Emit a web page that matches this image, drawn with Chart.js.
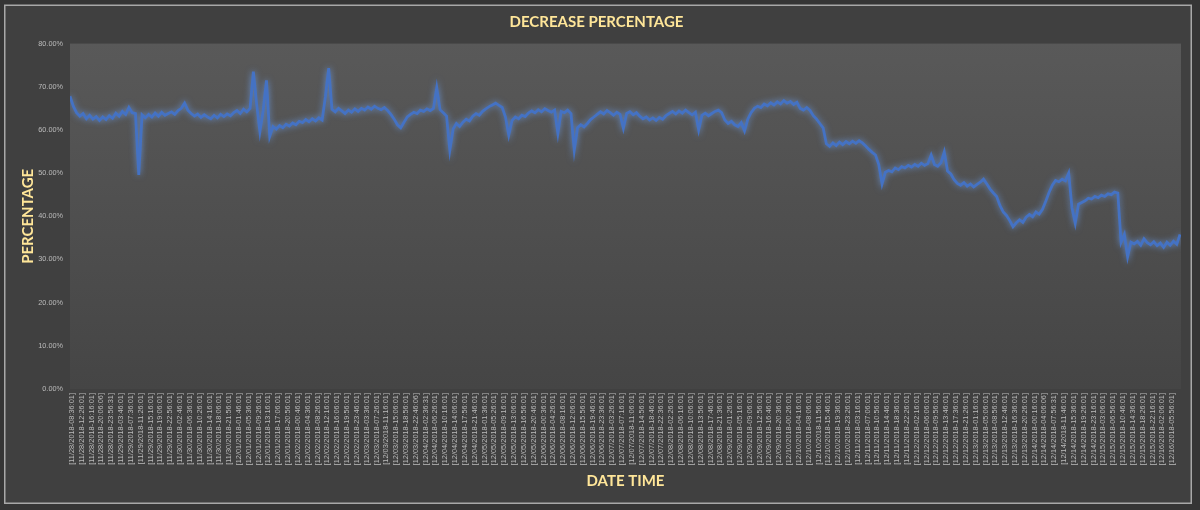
<!DOCTYPE html>
<html>
<head>
<meta charset="utf-8">
<script src="https://cdn.jsdelivr.net/npm/chart.js@4.4.1/dist/chart.umd.min.js"></script>
<style>
  html, body { margin: 0; padding: 0; background: #363636; }
  #wrap { width: 1200px; height: 510px; position: relative; }
</style>
</head>
<body>
<div id="wrap"><canvas id="c" width="1200" height="510"></canvas></div>
<script>
const chartTitle = 'DECREASE PERCENTAGE';
const yTitle = 'PERCENTAGE';
const xTitle = 'DATE TIME';

const tickLabels = [
'[11/28/2018-08:36:01]','[11/28/2018-12:26:01]','[11/28/2018-16:16:01]','[11/28/2018-20:06:06]','[11/28/2018-23:56:31]',
'[11/29/2018-03:46:01]','[11/29/2018-07:36:01]','[11/29/2018-11:26:01]','[11/29/2018-15:16:01]','[11/29/2018-19:06:01]',
'[11/29/2018-22:56:01]','[11/30/2018-02:46:01]','[11/30/2018-06:36:01]','[11/30/2018-10:26:01]','[11/30/2018-14:16:01]',
'[11/30/2018-18:06:01]','[11/30/2018-21:56:01]','[12/01/2018-01:46:01]','[12/01/2018-05:36:01]','[12/01/2018-09:26:01]',
'[12/01/2018-13:16:01]','[12/01/2018-17:06:01]','[12/01/2018-20:56:01]','[12/02/2018-00:46:01]','[12/02/2018-04:36:01]',
'[12/02/2018-08:26:01]','[12/02/2018-12:16:01]','[12/02/2018-16:06:01]','[12/02/2018-19:56:01]','[12/02/2018-23:46:01]',
'[12/03/2018-03:36:01]','[12/03/2018-07:26:01]','[12/03/2018-11:16:01]','[12/03/2018-15:06:01]','[12/03/2018-18:56:01]',
'[12/03/2018-22:46:06]','[12/04/2018-02:36:31]','[12/04/2018-06:26:01]','[12/04/2018-10:16:01]','[12/04/2018-14:06:01]',
'[12/04/2018-17:56:01]','[12/04/2018-21:46:01]','[12/05/2018-01:36:01]','[12/05/2018-05:26:01]','[12/05/2018-09:16:01]',
'[12/05/2018-13:06:01]','[12/05/2018-16:56:01]','[12/05/2018-20:46:01]','[12/06/2018-00:36:01]','[12/06/2018-04:26:01]',
'[12/06/2018-08:16:01]','[12/06/2018-12:06:01]','[12/06/2018-15:56:01]','[12/06/2018-19:46:01]','[12/06/2018-23:36:01]',
'[12/07/2018-03:26:01]','[12/07/2018-07:16:01]','[12/07/2018-11:06:01]','[12/07/2018-14:56:01]','[12/07/2018-18:46:01]',
'[12/07/2018-22:36:01]','[12/08/2018-02:26:01]','[12/08/2018-06:16:01]','[12/08/2018-10:06:01]','[12/08/2018-13:56:01]',
'[12/08/2018-17:46:01]','[12/08/2018-21:36:01]','[12/09/2018-01:26:01]','[12/09/2018-05:16:01]','[12/09/2018-09:06:01]',
'[12/09/2018-12:56:01]','[12/09/2018-16:46:01]','[12/09/2018-20:36:01]','[12/10/2018-00:26:01]','[12/10/2018-04:16:01]',
'[12/10/2018-08:06:01]','[12/10/2018-11:56:01]','[12/10/2018-15:46:01]','[12/10/2018-19:36:01]','[12/10/2018-23:26:01]',
'[12/11/2018-03:16:01]','[12/11/2018-07:06:01]','[12/11/2018-10:56:01]','[12/11/2018-14:46:01]','[12/11/2018-18:36:01]',
'[12/11/2018-22:26:01]','[12/12/2018-02:16:01]','[12/12/2018-06:06:01]','[12/12/2018-09:56:01]','[12/12/2018-13:46:01]',
'[12/12/2018-17:36:01]','[12/12/2018-21:26:01]','[12/13/2018-01:16:01]','[12/13/2018-05:06:01]','[12/13/2018-08:56:01]',
'[12/13/2018-12:46:01]','[12/13/2018-16:36:01]','[12/13/2018-20:26:01]','[12/14/2018-00:16:01]','[12/14/2018-04:06:06]',
'[12/14/2018-07:56:31]','[12/14/2018-11:46:01]','[12/14/2018-15:36:01]','[12/14/2018-19:26:01]','[12/14/2018-23:16:01]',
'[12/15/2018-03:06:01]','[12/15/2018-06:56:01]','[12/15/2018-10:46:01]','[12/15/2018-14:36:01]','[12/15/2018-18:26:01]',
'[12/15/2018-22:16:01]','[12/16/2018-02:06:01]','[12/16/2018-05:56:01]'
];

const yTickValues = [0, 10, 20, 30, 40, 50, 60, 70, 80];

// decrease percentage (%), three readings per tick-label interval
const decreasePct = [
67.8, 65.5, 64.0, 63.2, 63.8, 62.6, 63.4, 62.5, 63.1, 62.2,
63.0, 62.4, 63.3, 62.7, 63.9, 63.2, 64.3, 63.6, 65.2, 64.0,
63.8, 49.6, 63.5, 62.8, 63.6, 63.0, 63.9, 63.2, 64.1, 63.4,
63.8, 64.2, 63.6, 64.5, 65.0, 66.2, 64.6, 63.8, 63.2, 63.7,
62.9, 63.5, 63.0, 62.6, 63.4, 62.8, 63.6, 63.1, 63.7, 63.3,
64.0, 64.5, 63.8, 64.8, 64.2, 65.0, 73.5, 66.0, 59.6, 64.5,
71.5, 58.5, 60.8, 60.2, 61.0, 60.5, 61.3, 60.9, 61.6, 61.2,
62.0, 61.7, 62.4, 61.9, 62.6, 62.1, 62.8, 62.3, 67.7, 74.3,
64.8, 64.2, 65.0, 64.4, 63.8, 64.6, 64.1, 64.9, 64.3, 65.0,
64.6, 65.3, 64.8, 65.5, 65.0, 64.7, 65.2, 64.5, 63.6, 62.5,
61.2, 60.5, 61.8, 63.0, 63.6, 64.1, 63.8, 64.6, 64.3, 64.9,
64.5, 65.0, 69.8, 64.7, 64.0, 63.2, 55.3, 60.2, 61.5, 60.8,
61.8, 62.5, 62.1, 63.2, 63.8, 63.4, 64.3, 64.9, 65.4, 65.8,
66.2, 65.7, 65.2, 63.0, 58.8, 62.2, 63.0, 62.6, 63.4, 63.1,
63.9, 64.4, 64.0, 64.7, 64.2, 64.9, 64.5, 64.1, 64.6, 59.2,
64.3, 64.0, 64.6, 63.8, 55.3, 60.5, 61.2, 60.7, 61.5, 62.4,
63.0, 63.6, 64.2, 63.7, 64.5, 64.0, 63.4, 64.1, 63.6, 60.4,
63.8, 64.2, 63.5, 64.0, 63.2, 62.6, 63.0, 62.3, 62.8, 62.2,
62.9, 62.5, 63.3, 63.8, 64.3, 63.7, 64.4, 63.9, 64.6, 64.0,
63.5, 64.1, 60.0, 63.4, 63.9, 63.3, 63.8, 64.3, 64.6, 64.0,
62.3, 61.5, 62.0, 61.2, 60.8, 61.7, 59.8, 62.5, 64.0, 65.0,
65.5, 65.2, 66.0, 65.6, 66.3, 65.8, 66.5, 66.0, 66.8, 66.2,
66.6, 65.9, 66.4, 65.0, 64.6, 65.2, 64.5, 63.3, 62.5, 61.5,
60.5, 56.8, 56.2, 57.0, 56.4, 57.2, 56.6, 57.3, 56.8, 57.4,
56.9, 57.5, 57.0, 56.3, 55.5, 54.8, 54.2, 52.0, 47.5, 50.2,
50.6, 50.3, 51.2, 50.8, 51.5, 51.2, 51.8, 51.4, 52.0, 51.6,
52.3, 51.8, 52.2, 54.2, 52.0, 51.6, 52.4, 54.9, 50.5, 49.8,
48.5, 47.6, 47.2, 47.8, 47.0, 47.5, 46.8, 47.4, 47.9, 48.6,
47.5, 46.3, 45.4, 44.6, 42.5, 41.0, 40.2, 39.0, 37.6, 38.5,
39.2, 38.6, 39.8, 40.4, 39.9, 41.0, 40.5, 41.6, 43.5, 45.5,
47.2, 48.3, 48.0, 48.6, 48.2, 50.0, 42.0, 38.4, 42.8, 43.2,
43.6, 44.2, 44.0, 44.6, 44.3, 44.9, 44.6, 45.2, 45.0, 45.6,
45.4, 34.0, 35.8, 30.6, 34.0, 33.6, 34.2, 33.3, 34.8, 33.9,
33.4, 34.1, 33.2, 33.8, 32.8, 34.0, 33.3, 34.2, 33.5, 35.8
];

const readingsPerLabel = 3;
const firstReadingAt = -0.2;
const points = decreasePct.map((v, k) => ({ x: firstReadingAt + k / readingsPerLabel, y: v }));

const bgPlugin = {
  id: 'bg',
  beforeDraw(chart) {
    const ctx = chart.ctx;
    const W = chart.width, H = chart.height;
    ctx.save();
    ctx.fillStyle = '#353535';
    ctx.fillRect(0, 0, W, H);
    ctx.fillStyle = '#404040';
    ctx.fillRect(5, 5.5, 1186, 497.5);
    ctx.strokeStyle = '#a8a8a8';
    ctx.lineWidth = 1.5;
    ctx.strokeRect(4.75, 5.25, 1186.5, 498);
    const a = chart.chartArea;
    const g = ctx.createLinearGradient(0, a.top, 0, a.bottom);
    g.addColorStop(0, '#595959');
    g.addColorStop(1, '#454545');
    ctx.fillStyle = g;
    ctx.fillRect(a.left, a.top, a.right - a.left, a.bottom - a.top);
    ctx.restore();
  }
};

const glowPlugin = {
  id: 'glow',
  beforeDatasetsDraw(chart) {
    const ctx = chart.ctx;
    ctx.save();
    ctx.shadowColor = 'rgba(110,160,240,0.75)';
    ctx.shadowBlur = 6;
  },
  afterDatasetsDraw(chart) {
    chart.ctx.restore();
  }
};

new Chart(document.getElementById('c'), {
  type: 'line',
  data: {
    datasets: [{
      label: 'Decrease percentage',
      data: points,
      borderColor: '#4472C4',
      borderWidth: 2.8,
      pointRadius: 0,
      tension: 0,
      fill: false
    }]
  },
  options: {
    responsive: false,
    animation: false,
    layout: { padding: { left: 12, right: 19, top: 0, bottom: 20 } },
    plugins: {
      legend: { display: false },
      tooltip: { enabled: false },
      title: {
        display: true,
        text: chartTitle,
        color: '#FFE699',
        font: { family: 'Lato', size: 15, weight: 'bold' },
        padding: { top: 13, bottom: 12.6 }
      }
    },
    scales: {
      x: {
        type: 'linear',
        min: -0.2,
        max: 112.9,
        grid: { display: false, drawTicks: false },
        border: { display: false },
        afterBuildTicks(scale) {
          scale.ticks = tickLabels.map((_, i) => ({ value: i }));
        },
        afterFit(scale) { scale.height = 101; },
        ticks: {
          autoSkip: false,
          maxRotation: 90,
          minRotation: 90,
          padding: 4,
          color: '#bcbcbc',
          font: { family: 'Liberation Sans', size: 7.4 },
          callback: (v) => tickLabels[v]
        },
        title: {
          display: true,
          text: xTitle,
          color: '#FFE699',
          font: { family: 'Lato', size: 15, weight: 'bold' },
          padding: { top: 0, bottom: 0 }
        }
      },
      y: {
        min: 0,
        max: 80,
        grid: { display: false, drawTicks: false },
        border: { display: false },
        afterBuildTicks(scale) {
          scale.ticks = yTickValues.map(v => ({ value: v }));
        },
        afterFit(scale) { scale.width = 58; },
        ticks: {
          padding: 7,
          color: '#bcbcbc',
          font: { family: 'Liberation Sans', size: 7.3 },
          callback: (v) => v.toFixed(2) + '%'
        },
        title: {
          display: true,
          text: yTitle,
          color: '#FFE699',
          font: { family: 'Lato', size: 15, weight: 'bold' },
          padding: { top: 7, bottom: 0 }
        }
      }
    }
  },
  plugins: [bgPlugin, glowPlugin]
});
</script>
</body>
</html>
